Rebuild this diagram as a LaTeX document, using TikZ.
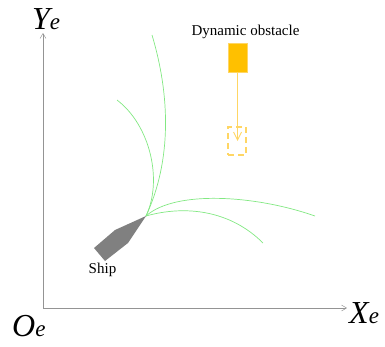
\documentclass[tikz,border=0pt]{standalone}
\usepackage{fontspec}
\setmainfont{Liberation Serif}
\usetikzlibrary{arrows.meta}
\definecolor{obstfill}{RGB}{255,192,0}
\definecolor{obstlight}{RGB}{255,214,100}
\definecolor{pathgreen}{RGB}{130,232,130}
\tikzset{
  axisline/.style={draw=black!42,line width=0.8pt,-{Straight Barb[length=5pt,width=6pt,line width=0.5pt]}},
  pathline/.style={draw=pathgreen,line width=0.7pt},
  lab/.style={inner sep=0pt,font=\fontsize{15}{17}\selectfont},
  biglab/.style={inner sep=0pt,anchor=base west,font=\fontsize{32}{34}\selectfont\itshape},
  obst/.style={draw=obstlight,fill=obstfill,line width=0.5pt,minimum width=19pt,minimum height=29pt,inner sep=0pt},
  ghost/.style={draw=obstlight,dash pattern=on 6pt off 4pt,line width=1.2pt,minimum width=18pt,minimum height=28pt,inner sep=0pt},
  motion/.style={draw=obstlight,line width=1pt,-{Straight Barb[length=8pt,width=8pt,line width=0.9pt]}}
}
\begin{document}
\begin{tikzpicture}[x=1pt,y=-1pt]
\useasboundingbox (0,0) rectangle (385,346);
\coordinate (O) at (43,308);
\coordinate (Xend) at (347,308);
\coordinate (Yend) at (43,33);
\draw[axisline] (O) -- (Xend);
\draw[axisline] (O) -- (Yend);
\node[biglab] (ylab) at (32,29) {Y\fontsize{23}{25}\selectfont e};
\node[biglab] (xlab) at (349,323) {X\fontsize{23}{25}\selectfont e};
\node[biglab] (olab) at (12,336) {O\fontsize{23}{25}\selectfont e};
\node[lab] (dyn) at (245.5,32) {Dynamic obstacle};
\node[obst] (ob) at (237.5,57.5) {};
\node[ghost] (gh) at (237,141) {};
\coordinate (ghc) at (237.5,141);
\draw[motion] (ob.south) -- (ghc);
\coordinate (tip) at (146,216);
\coordinate (e1) at (152,35);
\coordinate (e2) at (117,100);
\coordinate (e3) at (315,216);
\coordinate (e4) at (263,243);
\draw[pathline] (tip) .. controls (172,160) and (170,95) .. (e1);
\draw[pathline] (tip) .. controls (163,180) and (150,125) .. (e2);
\draw[pathline] (tip) .. controls (175,190) and (255,195) .. (e3);
\draw[pathline] (tip) .. controls (185,205) and (230,210) .. (e4);
\fill[black!50] (tip) -- (115,230) -- (94,248) -- (105,261) -- (128,243) -- cycle;
\node[lab] (ship) at (102.5,270) {Ship};
\end{tikzpicture}
\end{document}
